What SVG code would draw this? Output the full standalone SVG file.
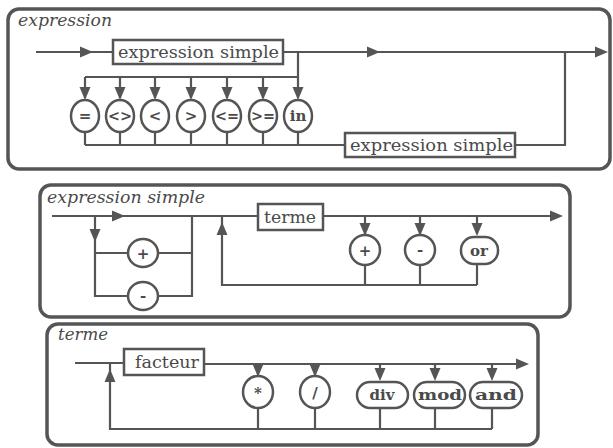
<svg xmlns="http://www.w3.org/2000/svg" width="613" height="448" viewBox="0 0 613 448">
<style>
.frame{fill:none;stroke:#555;stroke-width:3.5}
.ln{fill:none;stroke:#555;stroke-width:2.2}
.box{fill:#fff;stroke:#555;stroke-width:2.5}
.op{fill:#fff;stroke:#555;stroke-width:2.5}
.ah{fill:#555}
.title{font-family:"DejaVu Serif","Liberation Serif",serif;font-style:italic;font-size:16px;fill:#4a4a4a}
.bt{font-family:"DejaVu Serif","Liberation Serif",serif;font-size:17px;fill:#4a4a4a}
.ot{font-family:"DejaVu Serif","Liberation Serif",serif;font-weight:bold;font-size:15px;fill:#4a4a4a;text-anchor:middle}
</style>
<defs>
<path id="ah" class="ah" d="M0,0 L-13,-5.5 L-13,5.5 Z"/>
</defs>
<rect width="613" height="448" fill="#fff"/>

<!-- Panel 1: expression -->
<g id="expression">
<rect class="frame" x="8" y="9" width="602" height="160" rx="11"/>
<text class="title" x="18" y="26" textLength="94" lengthAdjust="spacingAndGlyphs">expression</text>
</g>
<g id="conn1">
<path class="ln" d="M36,52 H113 M283,52 H605 M298,52 V98 M85,77 H298 M85,77 V98 M120,77 V98 M155,77 V98 M191,77 V98 M227,77 V98 M263,77 V98"/>
<path class="ln" d="M85,132 V145 M120,132 V145 M155,132 V145 M191,132 V145 M227,132 V145 M263,132 V145 M298,132 V145 M85,145 H345 M515,145 H565 V52"/>
<use href="#ah" transform="translate(93,52)"/>
<use href="#ah" transform="translate(380,52)"/>
<use href="#ah" transform="translate(608,52)"/>
<use href="#ah" transform="translate(85,100) rotate(90)"/>
<use href="#ah" transform="translate(120,100) rotate(90)"/>
<use href="#ah" transform="translate(155,100) rotate(90)"/>
<use href="#ah" transform="translate(191,100) rotate(90)"/>
<use href="#ah" transform="translate(227,100) rotate(90)"/>
<use href="#ah" transform="translate(263,100) rotate(90)"/>
<use href="#ah" transform="translate(298,100) rotate(90)"/>
</g>
<g id="es1">
<rect class="box" x="113" y="40" width="170" height="24"/>
<text class="bt" x="118" y="58" textLength="161" lengthAdjust="spacingAndGlyphs">expression simple</text>
</g>
<g id="op-eq"><ellipse class="op" cx="85" cy="116" rx="14" ry="16"/><text class="ot" x="85" y="121">=</text></g>
<g id="op-ne"><ellipse class="op" cx="120" cy="116" rx="14" ry="16"/><text class="ot" x="120" y="121" textLength="24" lengthAdjust="spacingAndGlyphs">&lt;&gt;</text></g>
<g id="op-lt"><ellipse class="op" cx="155" cy="116" rx="14" ry="16"/><text class="ot" x="155" y="121">&lt;</text></g>
<g id="op-gt"><ellipse class="op" cx="191" cy="116" rx="14" ry="16"/><text class="ot" x="191" y="121">&gt;</text></g>
<g id="op-le"><ellipse class="op" cx="227" cy="116" rx="14" ry="16"/><text class="ot" x="227" y="121" textLength="24" lengthAdjust="spacingAndGlyphs">&lt;=</text></g>
<g id="op-ge"><ellipse class="op" cx="263" cy="116" rx="14" ry="16"/><text class="ot" x="263" y="121" textLength="24" lengthAdjust="spacingAndGlyphs">&gt;=</text></g>
<g id="op-in"><ellipse class="op" cx="298" cy="116" rx="14" ry="16"/><text class="ot" x="298" y="121">in</text></g>
<g id="es2">
<rect class="box" x="345" y="133" width="170" height="24"/>
<text class="bt" x="350" y="151" textLength="163" lengthAdjust="spacingAndGlyphs">expression simple</text>
</g>

<!-- Panel 2: expression simple -->
<g id="expression-simple">
<rect class="frame" x="40" y="185" width="530" height="132" rx="11"/>
<text class="title" x="47" y="203" textLength="158" lengthAdjust="spacingAndGlyphs">expression simple</text>
</g>
<g id="conn2">
<path class="ln" d="M52,216 H258 M323,216 H560 M95,216 V296 H128 M95,253 H128 M158,253 H192 M158,296 H192 V216 M477,285 H222 V216 M365,216 V234 M420,216 V234 M477,216 V234 M365,265 V285 M420,265 V285 M477,263 V285"/>
<use href="#ah" transform="translate(125,216)"/>
<use href="#ah" transform="translate(563,216)"/>
<use href="#ah" transform="translate(95,242) rotate(90)"/>
<use href="#ah" transform="translate(222,222) rotate(-90)"/>
<use href="#ah" transform="translate(365,236) rotate(90)"/>
<use href="#ah" transform="translate(420,236) rotate(90)"/>
<use href="#ah" transform="translate(477,236) rotate(90)"/>
</g>
<g id="terme1">
<rect class="box" x="258" y="204" width="65" height="26"/>
<text class="bt" x="264" y="223" textLength="52" lengthAdjust="spacingAndGlyphs">terme</text>
</g>
<g id="s-plus"><ellipse class="op" cx="143" cy="253" rx="15" ry="14"/><text class="ot" x="143" y="259">+</text></g>
<g id="s-minus"><ellipse class="op" cx="143" cy="296" rx="15" ry="14"/><text class="ot" x="143" y="301">-</text></g>
<g id="a-plus"><ellipse class="op" cx="365" cy="250" rx="15" ry="15"/><text class="ot" x="365" y="256">+</text></g>
<g id="a-minus"><ellipse class="op" cx="420" cy="250" rx="15" ry="15"/><text class="ot" x="420" y="255">-</text></g>
<g id="a-or"><rect class="op" x="461" y="237" width="37" height="27" rx="13"/><text class="ot" x="479" y="256">or</text></g>

<!-- Panel 3: terme -->
<g id="terme">
<rect class="frame" x="47" y="324" width="491" height="121" rx="11"/>
<text class="title" x="58" y="340" textLength="50" lengthAdjust="spacingAndGlyphs">terme</text>
</g>
<g id="conn3">
<path class="ln" d="M75,363 H124 M204,364 H526 M492,429 H110 V363 M258,364 V375 M315,364 V375 M380,364 V377 M435,364 V377 M492,364 V377 M258,408 V429 M315,408 V429 M380,408 V429 M435,408 V429 M492,408 V429"/>
<use href="#ah" transform="translate(529,364)"/>
<use href="#ah" transform="translate(110,369) rotate(-90)"/>
<use href="#ah" transform="translate(258,377) rotate(90)"/>
<use href="#ah" transform="translate(315,377) rotate(90)"/>
<use href="#ah" transform="translate(380,381) rotate(90)"/>
<use href="#ah" transform="translate(435,381) rotate(90)"/>
<use href="#ah" transform="translate(492,381) rotate(90)"/>
</g>
<g id="facteur">
<rect class="box" x="124" y="349" width="80" height="26"/>
<text class="bt" x="135" y="368" textLength="64" lengthAdjust="spacingAndGlyphs">facteur</text>
</g>
<g id="m-mul"><ellipse class="op" cx="258" cy="392" rx="15" ry="16"/><text class="ot" x="258" y="398">*</text></g>
<g id="m-div"><ellipse class="op" cx="315" cy="392" rx="15" ry="16"/><text class="ot" x="315" y="398">/</text></g>
<g id="m-idiv"><rect class="op" x="357" y="382" width="51" height="26" rx="13"/><text class="ot" x="382" y="400">div</text></g>
<g id="m-mod"><rect class="op" x="414" y="382" width="51" height="26" rx="13"/><text class="ot" x="440" y="400" textLength="44" lengthAdjust="spacingAndGlyphs">mod</text></g>
<g id="m-and"><rect class="op" x="470" y="382" width="52" height="26" rx="13"/><text class="ot" x="496" y="400" textLength="42" lengthAdjust="spacingAndGlyphs">and</text></g>
</svg>
